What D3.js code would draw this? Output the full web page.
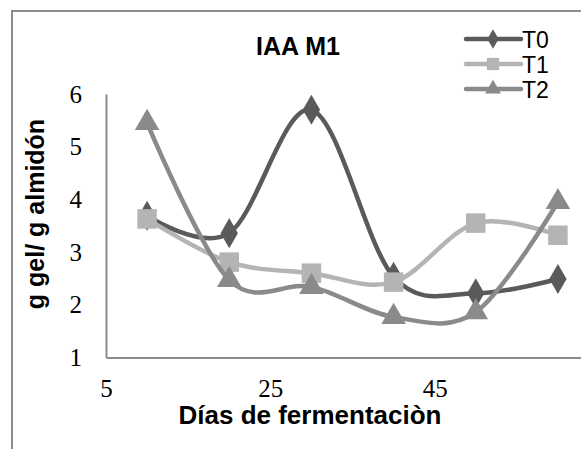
<!DOCTYPE html>
<html>
<head>
<meta charset="utf-8">
<script src="https://cdn.jsdelivr.net/npm/d3@7"></script>
<style>
  body { margin: 0; background: #fff; }
  svg { display: block; }
</style>
</head>
<body>
<svg id="chart"></svg>
<script>
// IAA M1 - gel per starch over fermentation days
const days = [10, 20, 30, 40, 50, 60];
const seriesNames = ['T0', 'T1', 'T2'];
const t0 = [3.69, 3.36, 5.70, 2.53, 2.22, 2.49];
const t1 = [3.63, 2.81, 2.60, 2.43, 3.55, 3.32];
const t2 = [5.45, 2.47, 2.34, 1.77, 1.86, 3.95];
const xTicks = [5, 25, 45];
const yTicks = [1, 2, 3, 4, 5, 6];

const width = 581;
const height = 449;
const colors = ['#5a5a5a', '#b4b4b4', '#8a8a8a'];
const shapes = [d3.symbolDiamond, d3.symbolSquare, d3.symbolTriangle];
const series = [t0, t1, t2];

const svg = d3.select('#chart')
    .attr('width', width)
    .attr('height', height);

// outer chart border (cropped on right and bottom)
svg.append('path')
    .attr('d', 'M12,' + (height + 5) + 'V11H' + (width + 5))
    .style('fill', 'none')
    .style('stroke', '#8c8c8c')
    .style('stroke-width', 2);

const x = d3.scaleLinear().domain([5, 65]).range([106, 599]);
const y = d3.scaleLinear().domain([1, 6]).range([357.5, 94]);

const yAxis = svg.append('g')
    .attr('transform', 'translate(106,0)')
    .call(d3.axisLeft(y).tickValues(yTicks).tickSize(0).tickPadding(24).tickFormat(d3.format('d')));

const xAxis = svg.append('g')
    .attr('transform', 'translate(0,357.5)')
    .call(d3.axisBottom(x).tickValues(xTicks).tickSize(0).tickPadding(24).tickFormat(d3.format('d')));

[xAxis, yAxis].forEach((ax) => {
    ax.select('.domain').style('stroke', '#8c8c8c').style('stroke-width', 2);
    ax.selectAll('text')
        .style('font-family', '"Liberation Serif", serif')
        .style('font-size', '25px')
        .style('fill', '#000');
});
xAxis.selectAll('text').attr('dy', '0.62em');

const line = d3.line()
    .x((d, i) => x(days[i]))
    .y((d) => y(d))
    .curve(d3.curveCardinal.tension(0));

series.forEach((vals, s) => {
    const g = svg.append('g');
    g.append('path')
        .datum(vals)
        .attr('d', line)
        .style('fill', 'none')
        .style('stroke', colors[s])
        .style('stroke-width', 4.5)
        .style('stroke-linecap', 'round');
    g.selectAll('path.mark')
        .data(vals)
        .enter()
        .append('path')
        .attr('class', 'mark')
        .attr('transform', (d, i) => 'translate(' + x(days[i]) + ',' + y(d) + ')')
        .attr('d', d3.symbol().type(shapes[s]).size(s === 1 ? 380 : 260))
        .style('fill', colors[s]);
});

// title
svg.append('text')
    .attr('x', 298)
    .attr('y', 55)
    .attr('text-anchor', 'middle')
    .style('font-family', '"Liberation Sans", Arial, sans-serif')
    .style('font-weight', 'bold')
    .style('font-size', '25px')
    .text('IAA M1');

// axis titles
svg.append('text')
    .attr('x', 310)
    .attr('y', 424)
    .attr('text-anchor', 'middle')
    .style('font-family', '"Liberation Sans", Arial, sans-serif')
    .style('font-weight', 'bold')
    .style('font-size', '26px')
    .text('Días de fermentaciòn');

svg.append('text')
    .attr('transform', 'translate(44,214) rotate(-90)')
    .attr('text-anchor', 'middle')
    .style('font-family', '"Liberation Sans", Arial, sans-serif')
    .style('font-weight', 'bold')
    .style('font-size', '25px')
    .text('g gel/ g almidón');

// legend
const legend = svg.selectAll('g.legend')
    .data(seriesNames)
    .enter()
    .append('g')
    .attr('class', 'legend')
    .attr('transform', (d, i) => 'translate(0,' + (39 + i * 25) + ')');

legend.append('line')
    .attr('x1', 466)
    .attr('x2', 521)
    .style('stroke', (d, i) => colors[i])
    .style('stroke-width', 4.5)
    .style('stroke-linecap', 'round');

legend.append('path')
    .attr('transform', 'translate(493,0)')
    .attr('d', (d, i) => d3.symbol().type(shapes[i]).size(i === 1 ? 150 : 110)())
    .style('fill', (d, i) => colors[i]);

legend.append('text')
    .attr('x', 522)
    .attr('y', 9)
    .style('font-family', '"Liberation Sans", Arial, sans-serif')
    .style('font-size', '23px')
    .text((d) => d);
</script>
</body>
</html>
